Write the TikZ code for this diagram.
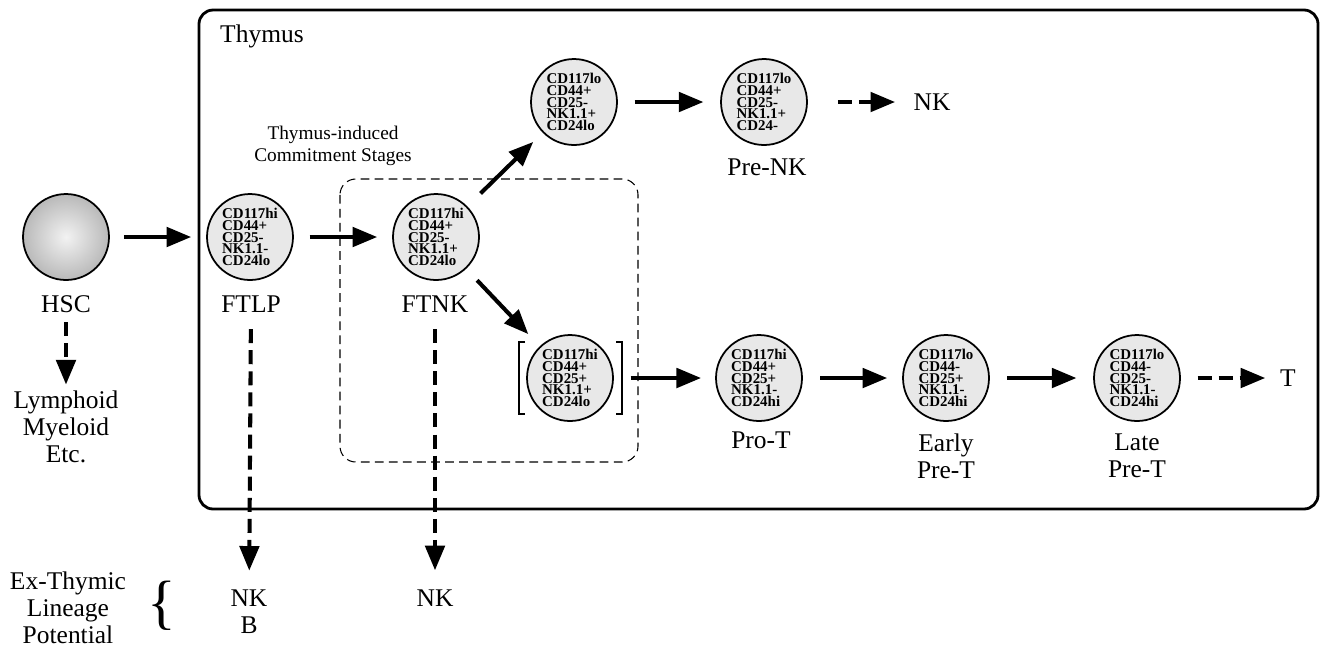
\documentclass[tikz,border=0pt]{standalone}
\usepackage{fontspec}
\setmainfont{Liberation Serif}
\usetikzlibrary{arrows.meta}
\newcommand\cellfont{\fontsize{8.5}{6.7}\selectfont\bfseries\lineskiplimit-5pt\relax}

\begin{document}
\begin{tikzpicture}[x=0.02cm, y=-0.02cm]
    \tikzset{cell/.style={circle, draw, line width=1pt, fill=gray!18, minimum size=1.72cm, inner sep=0pt,
                 align=left, font=\cellfont},
             txt/.style={align=center, font=\fontsize{14.5}{15.5}\selectfont},
             arrow/.style={-{Triangle[length=14pt, width=11pt]}, line width=2.3pt},
             darrow/.style={arrow, dash pattern=on 8pt off 4pt},
             bkt/.style={line width=1.1pt}}
    \useasboundingbox (0,0) rectangle (1321,647);

    % thymus and commitment boxes
    \draw[line width=1.6pt, rounded corners=8pt] (199,10) rectangle (1318,509);
    \draw[line width=0.6pt, dash pattern=on 5pt off 3pt, rounded corners=9pt] (340,179) rectangle (638,462);
    \node[txt, anchor=west] (thy) at (214,36) {Thymus};
    \node[align=center, font=\fontsize{11}{12.5}\selectfont] (tic) at (333,146) {Thymus-induced\\Commitment Stages};

    % cells
    \node[cell, shading=radial, inner color=gray!10, outer color=gray!55] (hsc) at (66,237) {};
    \node[cell] (ftlp) at (250,237) {CD117hi\\CD44+\\CD25-\\NK1.1-\\CD24lo};
    \node[cell] (ftnk) at (436,237) {CD117hi\\CD44+\\CD25-\\NK1.1+\\CD24lo};
    \node[cell] (nkup) at (574,102) {CD117lo\\CD44+\\CD25-\\NK1.1+\\CD24lo};
    \node[cell] (prenk) at (764,102) {CD117lo\\CD44+\\CD25-\\NK1.1+\\CD24-};
    \node[cell] (dnk) at (570,378) {CD117hi\\CD44+\\CD25+\\NK1.1+\\CD24lo};
    \node[cell] (prot) at (759,378) {CD117hi\\CD44+\\CD25+\\NK1.1-\\CD24hi};
    \node[cell] (eprt) at (946,378) {CD117lo\\CD44-\\CD25+\\NK1.1-\\CD24hi};
    \node[cell] (lprt) at (1137,378) {CD117lo\\CD44-\\CD25-\\NK1.1-\\CD24hi};

    % brackets
    \draw[bkt] ([shift={(-45,-36)}]dnk.center) -- ++(-6,0) -- ++(0,72) -- ++(6,0);
    \draw[bkt] ([shift={(46,-36)}]dnk.center) -- ++(6,0) -- ++(0,72) -- ++(-6,0);

    % labels
    \node[txt] (lhsc) at (66,304) {HSC};
    \node[txt] (lftlp) at (251,304) {FTLP};
    \node[txt] (lftnk) at (435,304) {FTNK};
    \node[txt] (lprenk) at (767,167) {Pre-NK};
    \node[txt] (lprot) at (761,440) {Pro-T};
    \node[txt] (leprt) at (946,456) {Early\\Pre-T};
    \node[txt] (llprt) at (1137,456) {Late\\Pre-T};
    \node[txt] (nka) at (932,102) {NK};
    \node[txt] (tcell) at (1288,378) {T};
    \node[txt] (lym) at (66,427) {Lymphoid\\Myeloid\\Etc.};
    \node[txt] (nkb) at (249,612) {NK\\B};
    \node[txt] (nkc) at (435,598) {NK};
    \node[txt] (exthy) at (68,608) {Ex-Thymic\\Lineage\\Potential};
    \node[font=\fontsize{34}{34}\selectfont] (brc) at (162,606) {\{};

    % arrows
    \draw[arrow, shorten <=8pt, shorten >=8.5pt] (hsc) -- (ftlp);
    \draw[arrow, shorten <=9pt, shorten >=8.5pt] (ftlp) -- (ftnk);
    \draw[arrow, shorten <=10.5pt, shorten >=7.5pt] (ftnk) -- (nkup);
    \draw[arrow, shorten <=9pt, shorten >=9.5pt] (ftnk) -- (dnk);
    \draw[arrow, shorten <=9.5pt, shorten >=9.5pt] (nkup) -- (prenk);
    \draw[arrow, shorten <=9.5pt, shorten >=8pt] (dnk) -- (prot);
    \draw[arrow, shorten <=10pt, shorten >=8.5pt] (prot) -- (eprt);
    \draw[arrow, shorten <=10pt, shorten >=9.5pt] (eprt) -- (lprt);
    \draw[darrow, shorten <=17pt, shorten >=7pt] (prenk) -- (nka);
    \draw[darrow, shorten <=9.5pt, shorten >=5pt] (lprt) -- (tcell);
    \draw[darrow, shorten <=2pt, shorten >=0pt] (lhsc) -- (lym);
    \draw[darrow, shorten <=6pt, shorten >=7.5pt] (lftlp) -- (nkb);
    \draw[darrow, shorten <=6pt, shorten >=7.5pt] (lftnk) -- (nkc);
\end{tikzpicture}
\end{document}
